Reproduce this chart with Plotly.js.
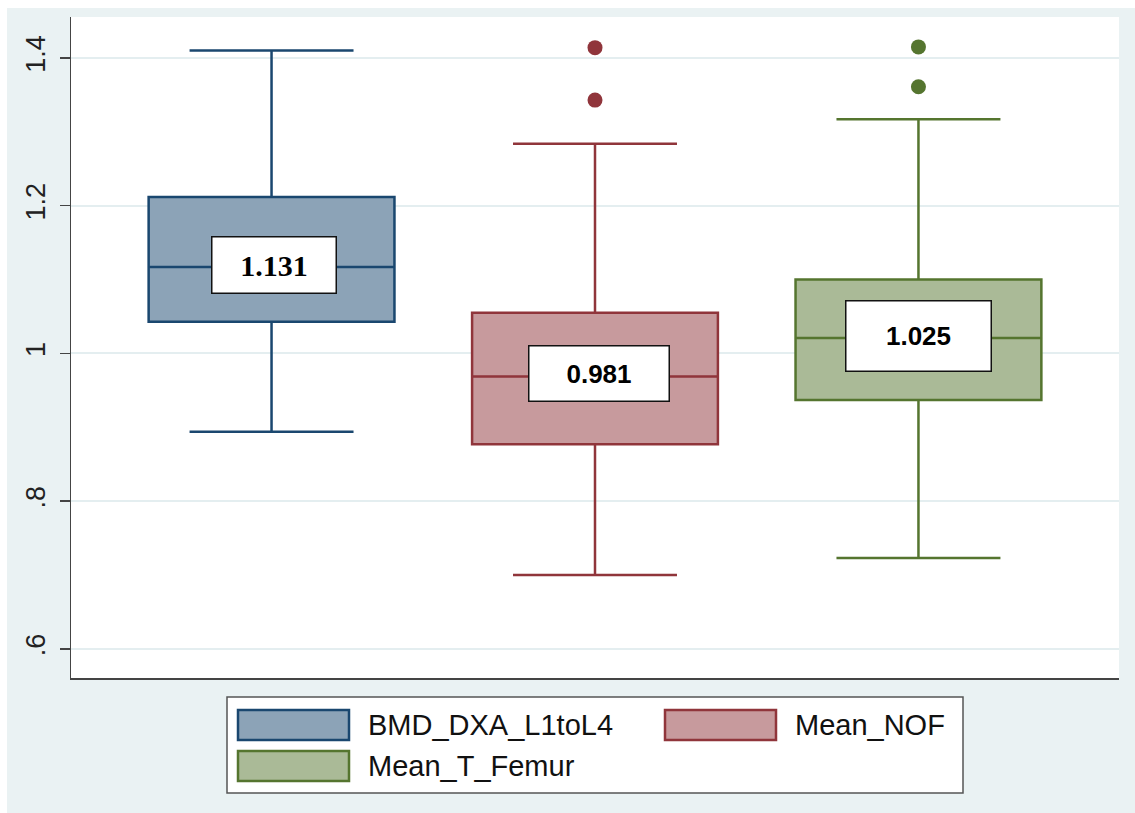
<!DOCTYPE html>
<html><head><meta charset="utf-8">
<script src="https://cdn.plot.ly/plotly-3.0.1.min.js"></script>
<style>body{margin:0;padding:0;background:#fff;} #chart{width:1135px;height:813px;}</style>
</head><body><div id="chart"></div>
<script>
// ---- data ----
const seriesNames = ['BMD_DXA_L1toL4', 'Mean_NOF', 'Mean_T_Femur'];
const lowerWhisker = [0.894, 0.700, 0.723];
const q1Values = [1.043, 0.877, 0.937];
const medianValues = [1.117, 0.969, 1.021];
const q3Values = [1.212, 1.055, 1.100];
const upperWhisker = [1.410, 1.284, 1.317];
const outlierGroups = [[], [1.343, 1.414], [1.361, 1.415]];
const meanLabels = ['1.131', '0.981', '1.025'];
const yTickVals = [0.6, 0.8, 1, 1.2, 1.4];
const yTickText = ['.6', '.8', '1', '1.2', '1.4'];

// ---- styles ----
const lineColors = ['#1A476F', '#90353B', '#55752F'];
const fillColors = ['#8CA3B7', '#C79A9D', '#AABA97'];
const labelStyle = [
  {w: 123, h: 55, dx: 2, dy: 2.5, family: 'Liberation Serif', size: 30},
  {w: 139, h: 54, dx: 3.5, dy: 2.4, family: 'Liberation Sans', size: 26},
  {w: 144, h: 69, dx: 0.5, dy: 1.5, family: 'Liberation Sans', size: 26}
];

const traces = [];
seriesNames.forEach((name, i) => {
  traces.push({
    type: 'box', name: name, x: [i],
    q1: [q1Values[i]], median: [medianValues[i]], q3: [q3Values[i]],
    lowerfence: [lowerWhisker[i]], upperfence: [upperWhisker[i]],
    boxpoints: false, width: 0.76, whiskerwidth: 0.667,
    fillcolor: fillColors[i], line: {color: lineColors[i], width: 2.5},
    showlegend: false, hoverinfo: 'skip'
  });
  if (outlierGroups[i].length) {
    traces.push({
      type: 'scatter', mode: 'markers',
      x: outlierGroups[i].map(() => i), y: outlierGroups[i],
      marker: {color: lineColors[i], size: 15},
      showlegend: false, hoverinfo: 'skip'
    });
  }
});

// paper coordinate helpers (plot area: x 71..1119, y 17..678)
const L = 71, R = 1119, T = 17, B = 678;
const px = v => (v - L) / (R - L);
const py = v => (B - v) / (B - T);

const shapes = [
  {type: 'rect', xref: 'paper', yref: 'paper', x0: px(0), x1: px(1135), y0: py(8), y1: py(0), fillcolor: '#fff', line: {width: 0}, layer: 'below'},
  {type: 'rect', xref: 'paper', yref: 'paper', x0: px(0), x1: px(7), y0: py(813), y1: py(0), fillcolor: '#fff', line: {width: 0}, layer: 'below'},
  {type: 'rect', xref: 'paper', yref: 'paper', x0: px(227), x1: px(963), y0: py(793), y1: py(697), fillcolor: '#fff', line: {color: '#555', width: 1.5}}
];
const annotations = [];
const legendPos = [{x: 238, y: 710}, {x: 665, y: 710}, {x: 238, y: 751}];
seriesNames.forEach((name, i) => {
  const p = legendPos[i];
  shapes.push({type: 'rect', xref: 'paper', yref: 'paper', x0: px(p.x), x1: px(p.x + 111), y0: py(p.y + 30), y1: py(p.y), fillcolor: fillColors[i], line: {color: lineColors[i], width: 2.5}});
  annotations.push({xref: 'paper', yref: 'paper', x: px(p.x + 128), y: py(p.y + 15), xanchor: 'left', yanchor: 'middle', text: name, showarrow: false, font: {family: 'Liberation Sans', size: 29, color: '#111'}});
  const s = labelStyle[i];
  annotations.push({xref: 'x', yref: 'y', x: i, y: medianValues[i], xshift: s.dx, yshift: s.dy, text: meanLabels[i], showarrow: false,
    bgcolor: '#fff', bordercolor: '#111', borderwidth: 1.5, borderpad: 0, width: s.w, height: s.h, align: 'center', valign: 'middle',
    font: {family: s.family, size: s.size, weight: 'bold', color: '#000'}});
});

const layout = {
  width: 1135, height: 813,
  margin: {l: L, r: 1135 - R, t: T, b: 813 - B, pad: 0},
  paper_bgcolor: '#EAF2F3', plot_bgcolor: '#fff',
  showlegend: false,
  xaxis: {range: [-0.62, 2.62], showticklabels: false, ticks: '', showgrid: false, zeroline: false,
    showline: true, linecolor: '#444', linewidth: 1.5, fixedrange: true},
  yaxis: {range: [0.5607, 1.4555], tickvals: yTickVals, ticktext: yTickText, tickangle: -90,
    ticks: 'outside', ticklen: 10, tickwidth: 1.5, tickcolor: '#444', ticklabelstandoff: 4,
    tickfont: {family: 'Liberation Sans', size: 27, color: '#222'},
    showgrid: true, gridcolor: '#E4EEF0', gridwidth: 2, zeroline: false,
    showline: true, linecolor: '#444', linewidth: 1.5, fixedrange: true},
  shapes: shapes, annotations: annotations
};
Plotly.newPlot('chart', traces, layout, {staticPlot: true, displayModeBar: false});
</script>
</body></html>
